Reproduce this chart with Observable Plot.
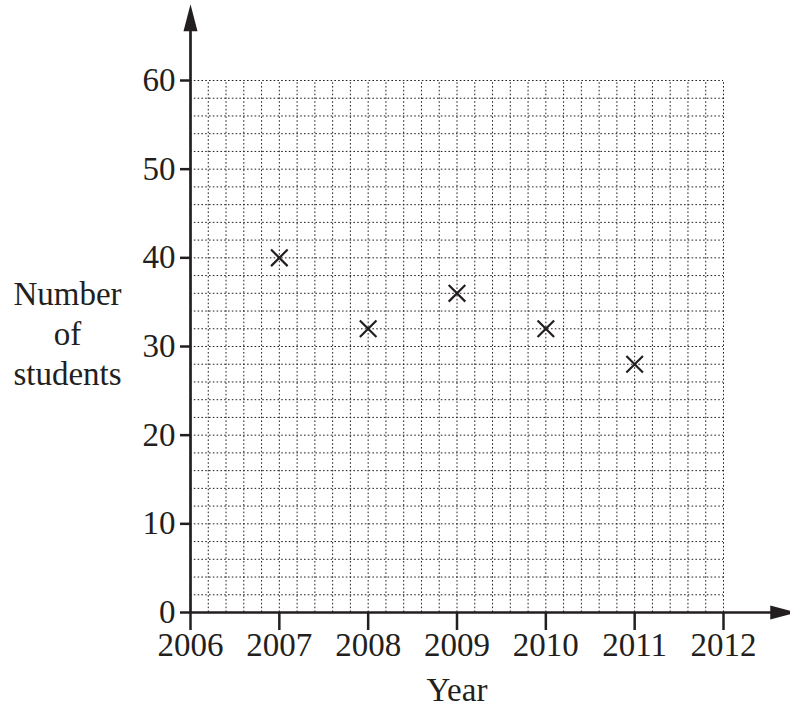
<!DOCTYPE html>
<html>
<head>
<meta charset="utf-8">
<script src="https://cdn.jsdelivr.net/npm/d3@7"></script>
<script src="https://cdn.jsdelivr.net/npm/@observablehq/plot@0.6"></script>
<style>
  html, body { margin: 0; padding: 0; background: #fff; }
  #chart svg { display: block; }
</style>
</head>
<body>
<div id="chart"></div>
<script>
// ---- data ----
const years = [2007, 2008, 2009, 2010, 2011];
const students = [40, 32, 36, 32, 28];
const xTicks = [2006, 2007, 2008, 2009, 2010, 2011, 2012];
const yTicks = [0, 10, 20, 30, 40, 50, 60];
const xLabel = "Year";
const yLabel = "Number\nof\nstudents";

const points = years.map((y, i) => ({year: y, value: students[i]}));

const ink = "#231f20";
const xMin = 2006, xMax = 2012, yMin = 0, yMax = 60;
const xMinor = d3.range(1, 31).map(i => +(xMin + i * 0.2).toFixed(2));
const yMinor = d3.range(1, 31).map(i => i * 2);

// filled arrowhead symbol with the tip at the origin, pointing up
const arrowHead = {
  draw(context) {
    context.moveTo(0, 0);
    context.lineTo(7, 27);
    context.lineTo(-7, 27);
    context.closePath();
  }
};

const chart = Plot.plot({
  width: 790,
  height: 711,
  marginLeft: 190,
  marginRight: 67,
  marginTop: 80,
  marginBottom: 99,
  style: {fontFamily: "'Liberation Serif', 'DejaVu Serif', serif", fontSize: "33px", color: ink, background: "#fff"},
  x: {domain: [xMin, xMax]},
  y: {domain: [yMin, yMax]},
  marks: [
    // dotted grid
    Plot.ruleX(xMinor, {y1: yMin, y2: yMax, stroke: ink, strokeWidth: 1, strokeDasharray: "1.6,2.2"}),
    Plot.ruleY(yMinor, {x1: xMin, x2: xMax, stroke: ink, strokeWidth: 1, strokeDasharray: "1.6,2.2"}),
    // axes lines
    Plot.ruleX([xMin], {y1: yMin, y2: 66, stroke: ink, strokeWidth: 2.7}),
    Plot.ruleY([yMin], {x1: xMin, x2: 2012.6, stroke: ink, strokeWidth: 2.7}),
    // arrowheads
    Plot.dot([{x: xMin, y: 68.6}], {x: "x", y: "y", symbol: arrowHead, fill: ink, stroke: null, r: 5}),
    Plot.dot([{x: 2012.83, y: yMin}], {x: "x", y: "y", symbol: arrowHead, fill: ink, stroke: null, r: 5, rotate: 90}),
    // axes ticks & labels
    Plot.axisY({ticks: yTicks, tickSize: 10, tickPadding: 5, fontSize: 33, strokeWidth: 2.5, stroke: ink, fill: ink, label: null}),
    Plot.axisX({ticks: xTicks, tickSize: 18, tickPadding: 2, fontSize: 33, strokeWidth: 2.5, stroke: ink, fill: ink, tickFormat: d => String(d), label: null}),
    // axis titles
    Plot.text([xLabel], {x: 2009, frameAnchor: "bottom", dy: 78, text: d => d, fontSize: 33, fill: ink, lineAnchor: "middle"}),
    Plot.text([yLabel], {y: 31.6, frameAnchor: "left", dx: -123, text: d => d, fontSize: 33, fill: ink, lineAnchor: "middle", textAnchor: "middle", lineHeight: 1.2}),
    // data points
    Plot.dot(points, {x: "year", y: "value", symbol: "times", r: 7.6, stroke: ink, strokeWidth: 2.2})
  ]
});

document.getElementById("chart").appendChild(chart);
</script>
</body>
</html>
